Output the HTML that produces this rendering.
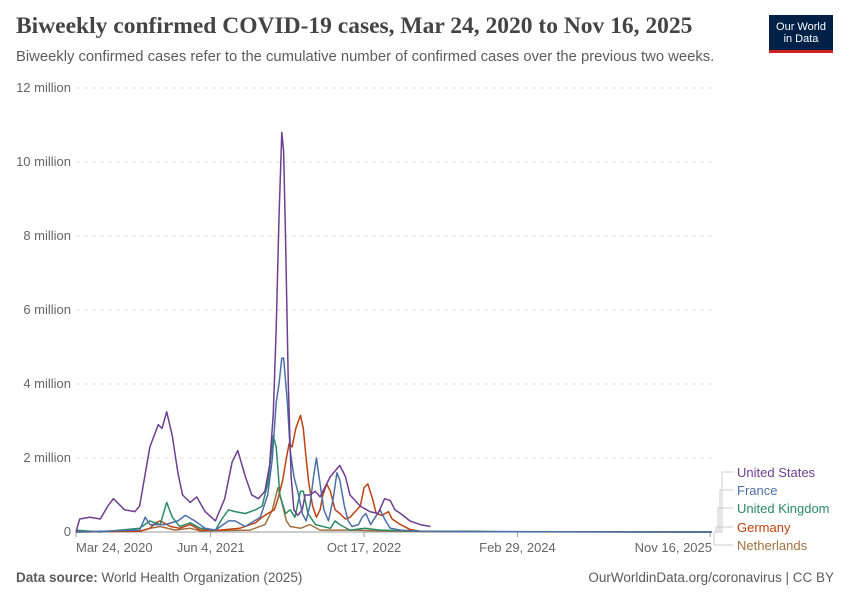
<!DOCTYPE html>
<html><head><meta charset="utf-8"><style>
body{margin:0;background:#fff;font-family:"Liberation Sans",sans-serif;}
#wrap{position:relative;width:850px;height:600px;overflow:hidden;}
.t{position:absolute;white-space:nowrap;}
</style></head><body>
<div id="wrap">
<div class="t" style="left:16px;top:13px;font-family:'Liberation Serif',serif;font-size:23.5px;font-weight:bold;color:#444;">Biweekly confirmed COVID-19 cases, Mar 24, 2020 to Nov 16, 2025</div>
<div class="t" style="left:16px;top:49px;font-size:14.8px;color:#5b5b5b;">Biweekly confirmed cases refer to the cumulative number of confirmed cases over the previous two weeks.</div>
<div style="position:absolute;left:769px;top:15px;width:64px;height:38px;background:#002147;border-bottom:3px solid #ce261e;box-sizing:border-box;color:#fff;font-size:11px;line-height:12px;text-align:center;padding-top:6px;">Our World<br>in Data</div>
<svg id="chart" width="850" height="600" style="position:absolute;left:0;top:0"></svg>
<div class="t" style="left:16px;top:570px;font-size:13.5px;color:#5b5b5b;"><b>Data source:</b> World Health Organization (2025)</div>
<div class="t" style="right:16px;top:570px;font-size:13.5px;color:#5b5b5b;">OurWorldinData.org/coronavirus | CC BY</div>
</div>
<script>
const yTicks=[0,2,4,6,8,10,12];
const yTickLabels=["0","2 million","4 million","6 million","8 million","10 million","12 million"];
const xTicks=[0,14.4,30.8,47.2,67.8];
const xTickLabels=["Mar 24, 2020","Jun 4, 2021","Oct 17, 2022","Feb 29, 2024","Nov 16, 2025"];
const seriesNames=["Netherlands","Germany","United Kingdom","France","United States"];
const seriesColors=["#a2703c","#c0410f","#2b8a68","#4c6ea8","#6d3e91"];
const usDates=[0,.4,1.5,2.6,3.4,4.0,5.2,6.3,6.8,7.9,8.8,9.2,9.7,10.3,10.9,11.4,12.2,12.9,13.8,14.9,15.9,16.7,17.3,18.1,18.8,19.5,20.2,20.7,21.1,21.4,21.7,22.0,22.2,22.4,22.7,23.0,23.3,23.7,24.2,24.5,25.0,25.6,26.1,27.2,28.2,28.8,29.3,30.4,31.4,32.3,33.0,33.6,34.1,34.7,35.7,36.8,37.9];
const usValues=[0,.35,.4,.35,.7,.9,.6,.55,.7,2.3,2.9,2.8,3.25,2.6,1.6,1.0,.8,.95,.55,.3,.9,1.9,2.2,1.5,1.0,.9,1.1,1.8,3.2,5.5,8.5,10.8,10.3,8,4,1.5,.6,.45,.6,1.0,1.0,1.1,.95,1.5,1.8,1.5,1.0,.7,.55,.5,.9,.85,.6,.5,.3,.2,.15];
const frDates=[0,6.8,7.4,7.9,9.5,10.9,11.7,12.7,13.8,14.9,16.3,17.0,18.1,19.7,20.5,21.0,21.4,21.7,22.0,22.2,22.6,22.9,23.3,23.8,24.2,24.6,25.0,25.4,25.7,26.1,26.5,27.0,27.5,27.9,28.2,28.7,29.1,29.5,30.2,30.6,31.0,31.5,32.0,32.5,33.1,33.6,34.7,36.8,40,68];
const frValues=[0,.05,.4,.2,.2,.3,.45,.3,.1,.05,.3,.3,.15,.4,1.0,2.0,3.5,4.0,4.7,4.7,3.5,2.2,1.5,1.0,.5,.3,.7,1.5,2.0,1.3,.6,.3,.9,1.6,1.4,.7,.3,.15,.2,.4,.5,.2,.4,.6,.3,.1,.05,.02,.01,0];
const ukDates=[0,2.6,6.8,7.9,9.0,9.7,10.3,11.1,12.2,13.3,14.9,15.6,16.3,17.0,18.1,19.2,19.9,20.5,21.1,21.4,21.8,22.4,22.9,23.4,24.0,24.3,24.8,25.6,27.2,27.7,28.2,29.3,30.9,32.5,36.8,42.2,45.4,68];
const ukValues=[.05,0,.1,.3,.2,.8,.4,.15,.25,.1,.05,.35,.6,.55,.5,.6,.7,1.3,2.6,2.3,1.0,.5,.6,.4,1.1,1.1,.5,.2,.1,.3,.2,.05,.1,.05,.02,.02,.01,0];
const deDates=[0,6.8,7.9,8.5,9.0,10.1,11.1,12.2,13.3,15.4,17.5,19.2,19.9,20.5,21.2,21.6,22.1,22.5,22.8,23.1,23.5,24.0,24.3,24.6,24.9,25.3,25.7,26.1,26.4,26.8,27.2,27.7,28.2,28.8,29.3,30.4,30.8,31.2,31.7,32.1,32.7,33.4,33.8,34.7,35.7,36.8,40,68];
const deValues=[0,.02,.1,.25,.3,.15,.1,.2,.05,.05,.1,.25,.4,.5,.6,.9,1.4,2.0,2.4,2.3,2.8,3.15,2.8,2.0,1.3,.7,.4,.6,1.0,1.3,1.1,.6,.5,.35,.4,.7,1.2,1.3,.9,.5,.45,.55,.35,.2,.07,.02,.01,0];
const nlDates=[0,6.8,7.9,9.0,10.6,12.2,13.3,18.6,20.2,21.0,21.6,22.0,22.5,22.9,24.0,25.0,26.1,29.3,34.7,40,68];
const nlValues=[0,.02,.1,.15,.05,.1,.03,.05,.2,.6,1.2,.8,.3,.15,.1,.2,.05,.05,.02,.01,0];
const allDates=[nlDates,deDates,ukDates,frDates,usDates];
const allValues=[nlValues,deValues,ukValues,frValues,usValues];

const X0=76,X1=712,Y0=532,Y1=88,XMAX=68,YMAX=12;
const xs=m=>X0+(m/XMAX)*(X1-X0);
const ys=v=>Y0-(v/YMAX)*(Y0-Y1);
const NS="http://www.w3.org/2000/svg";
const svg=document.getElementById('chart');
function mk(tag,attrs){const e=document.createElementNS(NS,tag);for(const k in attrs)e.setAttribute(k,attrs[k]);svg.appendChild(e);return e;}

yTicks.forEach((v,i)=>{
  if(v>0){const g=mk('line',{x1:X0,x2:X1,y1:ys(v),y2:ys(v),stroke:'#ddd','stroke-dasharray':'4,4'});
  
  }
  const t=mk('text',{x:71,y:ys(v)+4,'text-anchor':'end','font-size':13,fill:'#666','font-family':'Liberation Sans,sans-serif'});
  t.textContent=yTickLabels[i];
  
  
});
const ax=mk('line',{x1:X0,x2:X1,y1:Y0,y2:Y0,stroke:'#999'});


xTicks.forEach((m,i)=>{
  const tk=mk('line',{x1:xs(m),x2:xs(m),y1:Y0,y2:Y0+5,stroke:'#999'});
  
  
  let anchor='middle';if(i==0)anchor='start';if(i==xTicks.length-1)anchor='end';
  const t=mk('text',{x:i==0?X0:(i==xTicks.length-1?X1:xs(m)),y:552,'text-anchor':anchor,'font-size':13,fill:'#666','font-family':'Liberation Sans,sans-serif'});
  t.textContent=xTickLabels[i];
  
  
});
allDates.forEach((d,si)=>{
  const pts=d.map((m,j)=>xs(m).toFixed(1)+','+ys(allValues[si][j]).toFixed(1)).join(' ');
  const p=mk('polyline',{points:pts,fill:'none',stroke:seriesColors[si],'stroke-width':1.5,'stroke-linejoin':'round'});
  
  
});
const legOrder=[4,3,2,1,0];
const legY=[477,495,513,532,550];
const connX=[722,720,718,716,714];
legOrder.forEach((si,k)=>{
  const y=legY[k];
  const c=mk('path',{d:`M${X1+2},${Y0} H${connX[k]} V${y-5} H733`,fill:'none',stroke:'#ccc','stroke-width':1});
  
  
  const t=mk('text',{x:737,y:y,'font-size':13,fill:seriesColors[si],'font-family':'Liberation Sans,sans-serif'});
  t.textContent=seriesNames[si];
  
  
});
</script>
</body></html>
